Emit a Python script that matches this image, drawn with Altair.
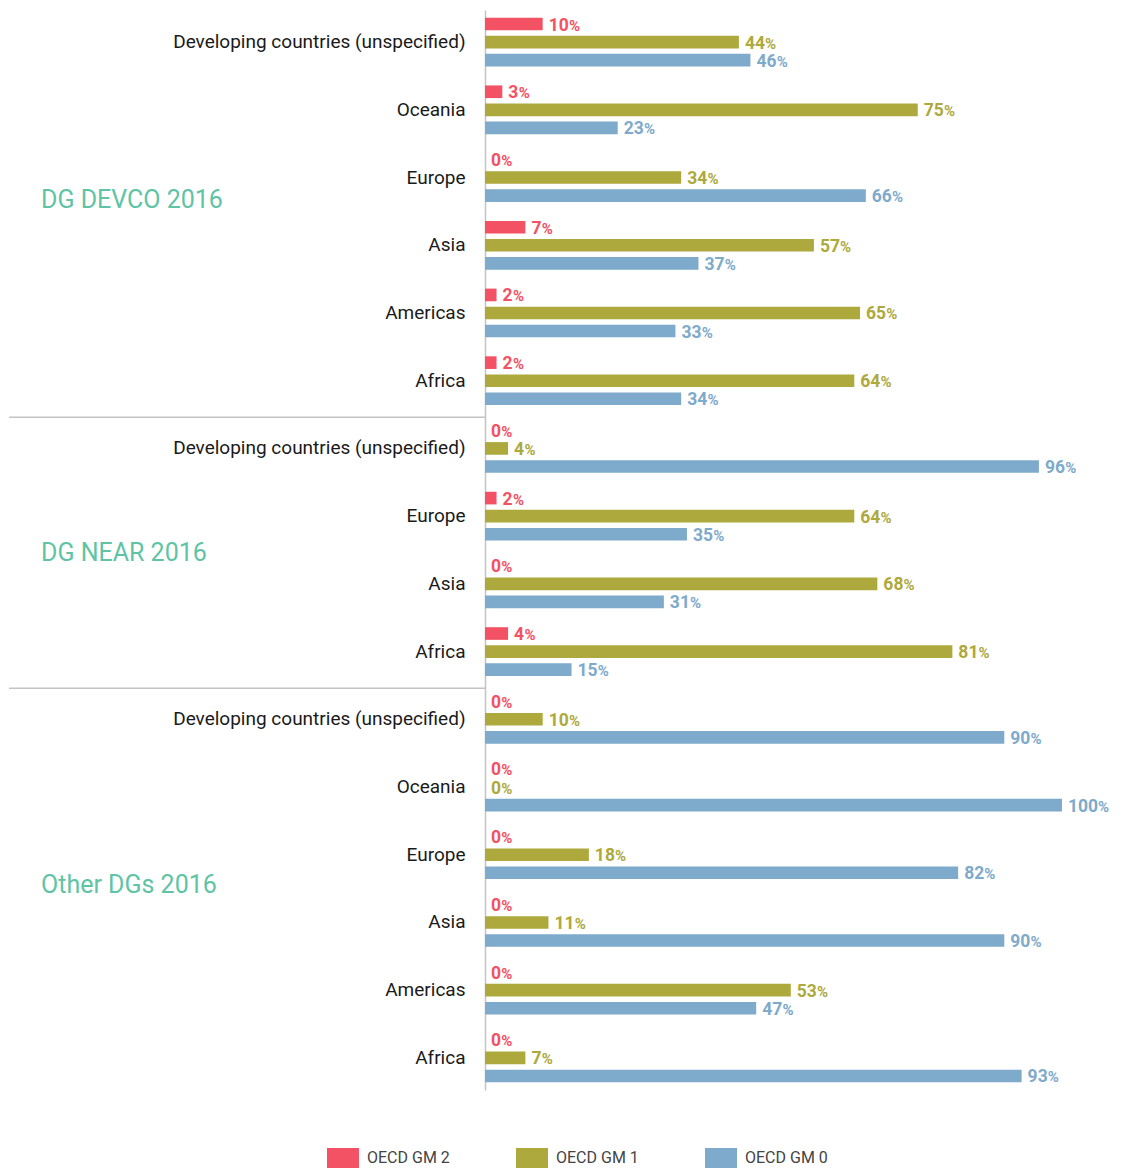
import altair as alt
import pandas as pd

# ---- data ----
groups = (["DG DEVCO 2016"] * 6) + (["DG NEAR 2016"] * 4) + (["Other DGs 2016"] * 6)
regions = [
    "Developing countries (unspecified)", "Oceania", "Europe", "Asia", "Americas", "Africa",
    "Developing countries (unspecified)", "Europe", "Asia", "Africa",
    "Developing countries (unspecified)", "Oceania", "Europe", "Asia", "Americas", "Africa",
]
gm2 = [10, 3, 0, 7, 2, 2, 0, 2, 0, 4, 0, 0, 0, 0, 0, 0]
gm1 = [44, 75, 34, 57, 65, 64, 4, 64, 68, 81, 10, 0, 18, 11, 53, 7]
gm0 = [46, 23, 66, 37, 33, 34, 96, 35, 31, 15, 90, 100, 82, 90, 47, 93]
series = ["OECD GM 2", "OECD GM 1", "OECD GM 0"]
colors = ["#F25264", "#ADA93C", "#7EAACB"]
title_color = "#5EC4A5"

keys = [f"{g}|{r}" for g, r in zip(groups, regions)]
rows = []
for k, g, r, a, b, c in zip(keys, groups, regions, gm2, gm1, gm0):
    for s, v in zip(series, [a, b, c]):
        rows.append({"key": k, "group": g, "region": r, "series": s, "value": v})
df = pd.DataFrame(rows)

# group title anchors (Europe row of each group) and separator anchors (first row of next group)
title_info = [
    ("DG DEVCO 2016", "DG DEVCO 2016|Europe", 22),
    ("DG NEAR 2016", "DG NEAR 2016|Europe", 37),
    ("Other DGs 2016", "Other DGs 2016|Europe", 30),
]
sep_keys = ["DG NEAR 2016|Developing countries (unspecified)",
            "Other DGs 2016|Developing countries (unspecified)"]

yscale = alt.Scale(domain=keys, paddingInner=0.2, paddingOuter=0.074)
xscale = alt.Scale(domain=[0, 100])
cscale = alt.Scale(domain=series, range=colors)
offscale = alt.Scale(domain=series, paddingInner=0.3, paddingOuter=0.15)

base = alt.Chart(df)

y_enc = alt.Y(
    "key:N", scale=yscale, sort=keys,
    axis=alt.Axis(
        title=None, ticks=False, grid=False, labelPadding=20,
        labelFont="Roboto", labelFontSize=19, labelColor="#1a1a1a",
        labelLimit=420, domainColor="#c4c4c4", domainWidth=1.5,
        labelExpr="split(datum.label, '|')[1]",
    ),
)
y_plain = alt.Y("key:N", scale=yscale, sort=keys)
yoff = alt.YOffset("series:N", scale=offscale, sort=series)

bars = base.mark_bar().encode(
    x=alt.X("value:Q", scale=xscale, axis=None),
    y=y_enc,
    yOffset=yoff,
    color=alt.Color(
        "series:N", scale=cscale, sort=series,
        legend=alt.Legend(
            title=None, orient="none", legendX=-152, legendY=1138,
            direction="horizontal", symbolType="M-1.6,-1H1.6V1H-1.6Z",
            symbolSize=400, symbolStrokeWidth=0, labelFont="Roboto",
            labelFontSize=16, labelColor="#444444", labelOffset=14,
            columnPadding=66, padding=0,
        ),
    ),
)

num_text = base.transform_calculate(
    num="format(datum.value, 'd')"
).mark_text(
    align="left", baseline="alphabetic", dx=6, dy=6.5,
    font="Roboto", fontWeight="bold", fontSize=17.5,
).encode(
    x=alt.X("value:Q", scale=xscale),
    y=y_plain,
    yOffset=yoff,
    text="num:N",
    color=alt.Color("series:N", scale=cscale, legend=None),
)

pct_text = base.transform_calculate(
    px="datum.value + length(format(datum.value, 'd')) * 1.71"
).mark_text(
    align="left", baseline="alphabetic", dx=6.5, dy=6.5,
    font="Roboto", fontWeight="bold", fontSize=15, text="%",
).encode(
    x=alt.X("px:Q", scale=xscale),
    y=y_plain,
    yOffset=yoff,
    color=alt.Color("series:N", scale=cscale, legend=None),
)

layers = [bars, num_text, pct_text]

for t, anchor, d in title_info:
    layers.append(
        alt.Chart(pd.DataFrame({"key": [anchor], "t": [t]}))
        .mark_text(align="left", baseline="middle", font="Roboto",
                   fontSize=25, color=title_color, dy=d)
        .encode(y=y_plain, x=alt.value(-444), text="t:N")
    )

sep = (
    alt.Chart(pd.DataFrame({"key": sep_keys}))
    .mark_rule(color="#c4c4c4", strokeWidth=1.5)
    .encode(
        y=alt.Y("key:N", scale=yscale, sort=keys, bandPosition=0),
        yOffset=alt.value(-4),
        x=alt.value(-476), x2=alt.value(0),
    )
)
layers.append(sep)

chart = (
    alt.layer(*layers)
    .properties(
        width=577, height=1080,
        autosize=alt.AutoSizeParams(type="none"),
        padding={"left": 477, "top": 2, "right": 50, "bottom": 80},
    )
    .configure_view(stroke=None)
)

chart.save("out.html", embed_options={"renderer": "svg", "actions": False})
